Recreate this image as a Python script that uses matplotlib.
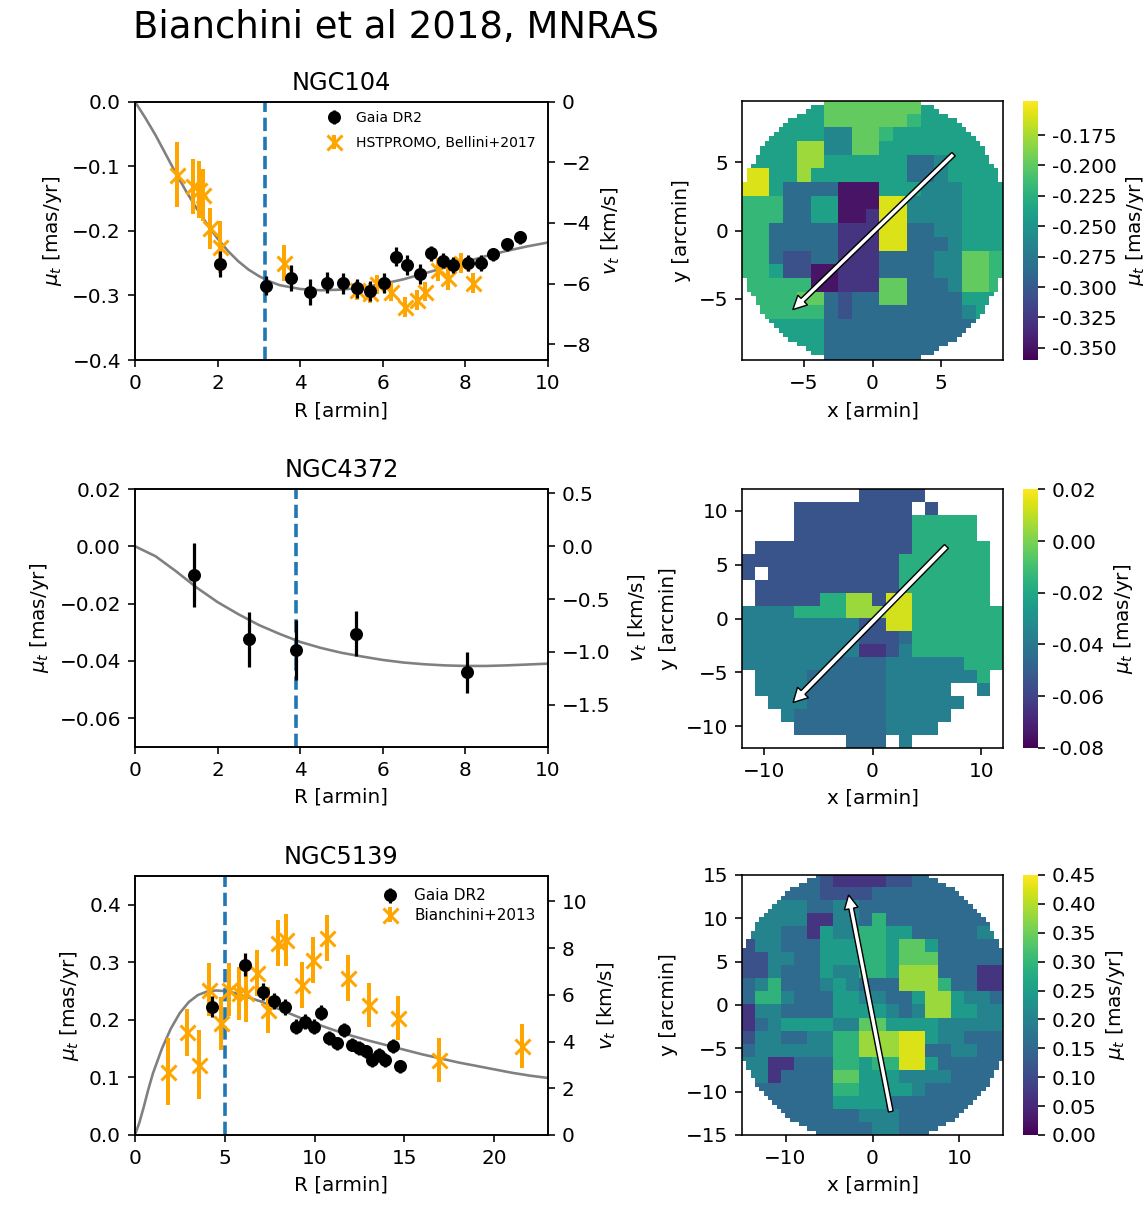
import numpy as np
import matplotlib
matplotlib.use('Agg')
import matplotlib.pyplot as plt

# ---------------- radial profiles (left column) ----------------
# NGC104
ngc104_gaia_r = [2.07, 3.17, 3.77, 4.25, 4.66, 5.03, 5.38, 5.69, 6.03, 6.32,
                 6.59, 6.89, 7.16, 7.47, 7.71, 8.07, 8.37, 8.68, 9.00, 9.32]
ngc104_gaia_mu = [-0.251, -0.285, -0.273, -0.295, -0.280, -0.281, -0.289, -0.293, -0.281, -0.240,
                  -0.253, -0.267, -0.235, -0.246, -0.253, -0.250, -0.250, -0.236, -0.221, -0.210]
ngc104_gaia_err = [0.020, 0.015, 0.020, 0.020, 0.016, 0.016, 0.015, 0.015, 0.015, 0.015,
                   0.015, 0.015, 0.012, 0.012, 0.012, 0.012, 0.012, 0.010, 0.010, 0.010]
ngc104_hst_r = [1.02, 1.40, 1.56, 1.65, 1.82, 2.05, 3.61, 5.38, 5.69, 5.87,
                6.19, 6.54, 6.82, 7.02, 7.34, 7.59, 7.89, 8.19]
ngc104_hst_mu = [-0.113, -0.131, -0.136, -0.144, -0.196, -0.225, -0.250, -0.292, -0.296, -0.283,
                 -0.294, -0.318, -0.307, -0.294, -0.260, -0.273, -0.250, -0.281]
ngc104_hst_err = [0.050, 0.043, 0.044, 0.040, 0.032, 0.040, 0.028, 0.015, 0.015, 0.015,
                  0.015, 0.015, 0.015, 0.015, 0.018, 0.018, 0.015, 0.015]
ngc104_model_r = [0, 0.25, 0.5, 0.75, 1.0, 1.25, 1.5, 1.75, 2.0, 2.25, 2.5, 2.75, 3.0, 3.25,
                  3.5, 4.0, 4.5, 5.0, 5.5, 6.0, 6.5, 7.0, 7.5, 8.0, 8.5, 9.0, 9.5, 10.0]
ngc104_model_mu = [0.0, -0.025, -0.052, -0.082, -0.112, -0.140, -0.166, -0.190, -0.212, -0.231,
                   -0.247, -0.260, -0.270, -0.278, -0.284, -0.290, -0.292, -0.291, -0.288, -0.282,
                   -0.275, -0.266, -0.257, -0.248, -0.239, -0.231, -0.224, -0.218]

# NGC4372
ngc4372_gaia_r = [1.43, 2.75, 3.90, 5.34, 8.03]
ngc4372_gaia_mu = [-0.0101, -0.0325, -0.0362, -0.0305, -0.0440]
ngc4372_gaia_err = [0.0112, 0.0096, 0.0104, 0.0079, 0.0072]
ngc4372_model_r = [0, 0.5, 1, 1.5, 2, 2.5, 3, 3.5, 4, 4.5, 5, 5.5, 6, 6.5, 7, 7.5, 8, 8.5, 9, 9.5, 10]
ngc4372_model_mu = [0.0, -0.0035, -0.0088, -0.0145, -0.0195, -0.0237, -0.0275, -0.0306, -0.0334,
                    -0.0355, -0.0372, -0.0385, -0.0397, -0.0406, -0.0412, -0.0416, -0.0418,
                    -0.0418, -0.0416, -0.0413, -0.0410]

# NGC5139
ngc5139_gaia_r = [4.27, 6.12, 7.15, 7.77, 8.35, 8.97, 9.48, 9.96, 10.37, 10.78,
                  11.24, 11.65, 12.06, 12.47, 12.89, 13.20, 13.60, 13.90, 14.37, 14.74]
ngc5139_gaia_mu = [0.223, 0.296, 0.249, 0.232, 0.223, 0.188, 0.197, 0.188, 0.212, 0.168,
                   0.159, 0.183, 0.157, 0.151, 0.145, 0.130, 0.139, 0.130, 0.154, 0.119]
ngc5139_gaia_err = [0.018, 0.020, 0.015, 0.014, 0.014, 0.013, 0.013, 0.013, 0.013, 0.012,
                    0.012, 0.012, 0.012, 0.012, 0.012, 0.012, 0.012, 0.012, 0.012, 0.011]
ngc5139_b13_r = [1.86, 2.89, 3.57, 4.12, 4.80, 5.26, 5.77, 6.19, 6.80, 7.42,
                 7.98, 8.39, 9.28, 9.90, 10.72, 11.86, 13.05, 14.64, 16.91, 21.55]
ngc5139_b13_mu = [0.110, 0.178, 0.122, 0.252, 0.194, 0.252, 0.246, 0.246, 0.281, 0.217,
                  0.333, 0.339, 0.261, 0.304, 0.342, 0.272, 0.226, 0.203, 0.130, 0.154]
ngc5139_b13_err = [0.058, 0.040, 0.060, 0.046, 0.046, 0.046, 0.046, 0.050, 0.040, 0.040,
                   0.040, 0.045, 0.040, 0.040, 0.040, 0.040, 0.038, 0.038, 0.038, 0.038]
ngc5139_model_r = [0, 0.25, 0.5, 0.75, 1.0, 1.5, 2.0, 2.5, 3.0, 3.5, 4.0, 4.5, 5.0, 5.5, 6.0,
                   7.0, 8.0, 9.0, 10.0, 11.0, 12.0, 13.0, 14.0, 15.0, 16.0, 17.0, 18.0, 19.0,
                   20.0, 21.0, 22.0, 23.0]
ngc5139_model_mu = [0.0, 0.022, 0.050, 0.080, 0.107, 0.150, 0.185, 0.212, 0.231, 0.243, 0.249,
                    0.251, 0.250, 0.247, 0.242, 0.232, 0.219, 0.206, 0.194, 0.183, 0.173, 0.164,
                    0.156, 0.148, 0.140, 0.133, 0.126, 0.120, 0.114, 0.108, 0.103, 0.099]

# radius of the vertical dashed line (armin)
r_dash = [3.15, 3.9, 5.0]
# mas/yr -> km/s for the right axes
kms_factor = [21.3, 27.1, 24.64]

# ---------------- maps (right column) ----------------
# each character is a colour level (index into the level list), '.' = no data
map104_rows = [
    "5555557777777555555",
    "5555557777776555555",
    "5555554477655555555",
    "5555884477555555555",
    "5555885555553345555",
    "9955855555553345555",
    "9953333000555444555",
    "6663355000994444555",
    "6663355001994444555",
    "6633333111993344555",
    "6633333111993334555",
    "6632233111333344776",
    "6652200111333344776",
    "6666600111773334776",
    "6666773233773333555",
    "6666663233333333455",
    "5555553333333333333",
    "5555553333333333333",
    "5555553333333333333",
]
map104_levels = [-0.349, -0.328, -0.307, -0.285, -0.262, -0.238, -0.218, -0.198, -0.178, -0.158]

map4372_rows = [
    ".........22222......",
    "....222222222.2.....",
    "....22222222266666..",
    "....22222222266666..",
    ".222222222222666666.",
    "2222222222226666666.",
    "2.22222222226666666.",
    ".222222222226666666.",
    ".222226688299666666.",
    "44446666888996666666",
    "44444444422996666666",
    "44444444422236666666",
    "44444444411246666666",
    "44444443333444444666",
    ".444433333344444446.",
    ".444433333344444..4.",
    "..444333333444444...",
    "...4333333344444....",
    "....33333334444.....",
    "........333.4.......",
]
map4372_levels = [-0.075, -0.065, -0.054, -0.045, -0.037, -0.025, -0.017, -0.005, 0.005, 0.013]

map5139_rows = [
    "33333321111223333333",
    "33333322223333333333",
    "44444334433333333333",
    "44444114436333333333",
    "44433154466553333344",
    "24433355566577533333",
    "22443355566577733333",
    "22433354466588833311",
    "34633345433388863311",
    "36643335544335885443",
    "14433335555434885544",
    "13455554477555544444",
    "24433446688899544333",
    "34444446688899334433",
    "44113336656699533333",
    "44133337755544443333",
    "33333336655554333333",
    "33333335555333333333",
    "33333333344433333333",
    "33333333334433333333",
]
map5139_levels = [0.022, 0.067, 0.112, 0.157, 0.202, 0.247, 0.292, 0.337, 0.382, 0.427]

map_half = [9.5, 12.0, 15.0]        # half size of the mapped box (arcmin)
map_radius = [10.0, None, 16.2]     # circular field of view (arcmin)
map_vlim = [(-0.36, -0.147), (-0.08, 0.02), (0.0, 0.45)]
map_ticks = [[-5, 0, 5], [-10, 0, 10], [-10, 0, 10]]
map_yticks = [[-5, 0, 5], [-10, -5, 0, 5, 10], [-15, -10, -5, 0, 5, 10, 15]]
cbar_ticks = [[-0.35, -0.325, -0.3, -0.275, -0.25, -0.225, -0.2, -0.175],
              [-0.08, -0.06, -0.04, -0.02, 0.0, 0.02],
              [0.0, 0.05, 0.1, 0.15, 0.2, 0.25, 0.3, 0.35, 0.4, 0.45]]
cbar_fmt = ['%.3f', '%.2f', '%.2f']
# rotation axis arrows: tail and head (arcmin)
arrow_tail = [(5.9, 5.6), (6.8, 6.7), (2.1, -12.3)]
arrow_head = [(-5.8, -5.8), (-7.3, -7.8), (-2.75, 12.7)]
arrow_size = [(0.35, 1.0, 1.0), (0.5, 1.4, 1.3), (0.55, 1.6, 1.6)]


def decode(rows, levels):
    grid = np.full((len(rows), len(rows[0])), np.nan)
    for j, row in enumerate(rows):
        for i, ch in enumerate(row):
            if ch != '.':
                grid[j, i] = levels[int(ch)]
    return grid


fig = plt.figure(figsize=(1143 / 144, 1211 / 144), dpi=144)
fig.text(133 / 1143, 1 - 28 / 1211, 'Bianchini et al 2018, MNRAS',
         fontsize=18.5, ha='left', va='center')

left_rects = [[0.1181, 0.7027, 0.3613, 0.2133],
              [0.1181, 0.3834, 0.3613, 0.2128],
              [0.1181, 0.0628, 0.3613, 0.2139]]
map_rects = [[0.6492, 0.7027, 0.2283, 0.2139],
             [0.6492, 0.3826, 0.2283, 0.2133],
             [0.6492, 0.0628, 0.2283, 0.2147]]
cbar_rects = [[0.8950, r[1], 0.0127, r[3]] for r in map_rects]

titles = ['NGC104', 'NGC4372', 'NGC5139']
xlims = [(0, 10), (0, 10), (0, 23)]
ylims = [(-0.4, 0.0), (-0.07, 0.02), (0.0, 0.45)]
xticks = [[0, 2, 4, 6, 8, 10], [0, 2, 4, 6, 8, 10], [0, 5, 10, 15, 20]]
yticks = [[-0.4, -0.3, -0.2, -0.1, 0.0], [-0.06, -0.04, -0.02, 0.0, 0.02],
          [0.0, 0.1, 0.2, 0.3, 0.4]]
yfmt = ['%.1f', '%.2f', '%.1f']
rticks = [[-8, -6, -4, -2, 0], [-1.5, -1.0, -0.5, 0.0, 0.5], [0, 2, 4, 6, 8, 10]]
rfmt = ['%d', '%.1f', '%d']

gaia = [(ngc104_gaia_r, ngc104_gaia_mu, ngc104_gaia_err),
        (ngc4372_gaia_r, ngc4372_gaia_mu, ngc4372_gaia_err),
        (ngc5139_gaia_r, ngc5139_gaia_mu, ngc5139_gaia_err)]
other = [(ngc104_hst_r, ngc104_hst_mu, ngc104_hst_err, 'HSTPROMO, Bellini+2017'),
         None,
         (ngc5139_b13_r, ngc5139_b13_mu, ngc5139_b13_err, 'Bianchini+2013')]
models = [(ngc104_model_r, ngc104_model_mu), (ngc4372_model_r, ngc4372_model_mu),
          (ngc5139_model_r, ngc5139_model_mu)]
legend_opts = [dict(fontsize=7.0, labelspacing=0.75, bbox_to_anchor=(0.985, 0.985)),
               None,
               dict(fontsize=7.6, labelspacing=0.3, bbox_to_anchor=(0.985, 0.975))]

for k in range(3):
    ax = fig.add_axes(left_rects[k])
    mr, mm = models[k]
    ax.plot(mr, mm, color='gray', lw=1.3, zorder=1)
    ax.axvline(r_dash[k], color='C0', ls='--', lw=1.8, zorder=2)
    gr, gm, ge = gaia[k]
    if other[k] is not None:
        orr, om, oe, olab = other[k]
        ax.errorbar(gr, gm, yerr=ge, fmt='o', color='k', ms=5.5, elinewidth=1.6,
                    label='Gaia DR2', zorder=4)
        ax.errorbar(orr, om, yerr=oe, fmt='x', color='orange', ms=7.5, mew=1.5,
                    elinewidth=2.0, label=olab, zorder=3)
        ax.legend(loc='upper right', frameon=False, handletextpad=0.6,
                  borderaxespad=0.0, **legend_opts[k])
    else:
        ax.errorbar(gr, gm, yerr=ge, fmt='o', color='k', ms=5.5, elinewidth=1.6, zorder=4)
    ax.set_xlim(*xlims[k])
    ax.set_ylim(*ylims[k])
    ax.set_xticks(xticks[k])
    ax.set_yticks(yticks[k])
    ax.set_yticklabels([(yfmt[k] % v).replace('-', '\u2212') for v in yticks[k]])
    ax.set_title(titles[k], fontsize=12)
    ax.set_xlabel('R [armin]')
    ax.set_ylabel(r'$\mu_t$ [mas/yr]')

    ax2 = ax.twinx()
    ax2.set_ylim(ylims[k][0] * kms_factor[k], ylims[k][1] * kms_factor[k])
    ax2.set_yticks(rticks[k])
    ax2.set_yticklabels([(rfmt[k] % v).replace('-', '\u2212') for v in rticks[k]])
    ax2.set_ylabel(r'$v_t$ [km/s]')
    if k == 1:
        ax2.yaxis.set_label_coords(1.19, 0.5)

    # map
    axm = fig.add_axes(map_rects[k])
    rows = [map104_rows, map4372_rows, map5139_rows][k]
    levels = [map104_levels, map4372_levels, map5139_levels][k]
    grid = decode(rows, levels)
    h = map_half[k]
    if map_radius[k] is not None:
        grid = np.repeat(np.repeat(grid, 3, axis=0), 3, axis=1)
        n = grid.shape[0]
        c = -h + (np.arange(n) + 0.5) * (2 * h / n)
        xx, yy = np.meshgrid(c, c[::-1])
        grid[np.hypot(xx, yy) > map_radius[k]] = np.nan
    vmin, vmax = map_vlim[k]
    im = axm.imshow(np.ma.masked_invalid(grid), cmap='viridis', vmin=vmin, vmax=vmax,
                    extent=(-h, h, -h, h), origin='upper', interpolation='nearest',
                    aspect='auto')
    (tx, ty), (hx, hy) = arrow_tail[k], arrow_head[k]
    w, hw, hl = arrow_size[k]
    axm.arrow(tx, ty, hx - tx, hy - ty, width=w, head_width=hw, head_length=hl,
              length_includes_head=True, fc='white', ec='black', lw=0.7, zorder=3)
    axm.set_xlim(-h, h)
    axm.set_ylim(-h, h)
    axm.set_xticks(map_ticks[k])
    axm.set_yticks(map_yticks[k])
    axm.set_xlabel('x [armin]')
    axm.set_ylabel('y [arcmin]')

    cax = fig.add_axes(cbar_rects[k])
    cb = fig.colorbar(im, cax=cax, ticks=cbar_ticks[k], format=cbar_fmt[k])
    cb.outline.set_visible(False)
    cb.set_label(r'$\mu_t$ [mas/yr]')

fig.savefig('out.png', dpi=144)
